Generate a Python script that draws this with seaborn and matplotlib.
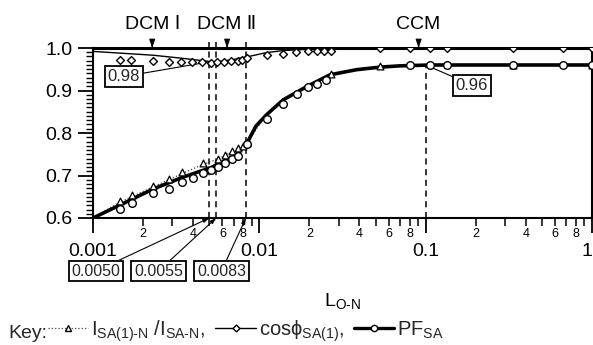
import numpy as np
import pandas as pd
import matplotlib
matplotlib.use("Agg")
import matplotlib.pyplot as plt
from matplotlib.lines import Line2D
from matplotlib.ticker import FixedLocator, FixedFormatter
import seaborn as sns

# ---------------- data ----------------
# cos(phi)_SA(1): diamonds
cos_L = [0.001444, 0.001699, 0.002293, 0.002862, 0.003399, 0.003937, 0.004523, 0.005104,
         0.005601, 0.006137, 0.006801, 0.007454, 0.007879, 0.008445, 0.01105, 0.01391,
         0.01652, 0.01952, 0.02211, 0.02457, 0.02696, 0.0532, 0.0807, 0.1064, 0.1342,
         0.3334, 0.667, 1.0]
cos_v = [0.972, 0.972, 0.970, 0.968, 0.966, 0.966, 0.966, 0.964,
         0.966, 0.968, 0.969, 0.970, 0.972, 0.976, 0.984, 0.987,
         0.990, 0.992, 0.992, 0.993, 0.994, 1.0, 1.0, 1.0, 1.0,
         1.0, 1.0, 1.0]
cos_line_L = [0.001, 0.0023, 0.0034, 0.0051, 0.0056, 0.0068, 0.0084, 0.011, 0.0139,
              0.0195, 0.027, 0.05, 1.0]
cos_line_v = [0.992, 0.983, 0.976, 0.968, 0.968, 0.972, 0.979, 0.989, 0.994,
              0.997, 0.999, 1.0, 1.0]

# I_SA(1)-N / I_SA-N: triangles
tri_L = [0.001444, 0.001713, 0.002293, 0.002862, 0.003413, 0.004586, 0.005647, 0.006196,
         0.00683, 0.007422, 0.007955, 0.008374, 0.02685, 0.0532, 0.3334, 1.0]
tri_v = [0.640, 0.655, 0.676, 0.691, 0.708, 0.730, 0.740, 0.748,
         0.757, 0.764, 0.770, 0.777, 0.939, 0.958, 0.960, 0.960]
tri_line_L = [0.001, 0.001444, 0.002293, 0.003413, 0.004586, 0.005647, 0.00683, 0.008374,
              0.01105, 0.01391, 0.01924, 0.02659, 0.0385, 0.0532, 0.0702, 0.1064, 1.0]
tri_line_v = [0.600, 0.637, 0.673, 0.704, 0.726, 0.739, 0.756, 0.777,
              0.843, 0.878, 0.909, 0.937, 0.949, 0.955, 0.958, 0.960, 0.960]

# PF_SA: circles
pf_L = [0.001444, 0.001723, 0.002293, 0.002862, 0.003413, 0.003992, 0.004586, 0.005152,
        0.005647, 0.006257, 0.006859, 0.007454, 0.008374, 0.01114, 0.0138, 0.01675,
        0.01952, 0.0223, 0.02515, 0.0807, 0.1064, 0.1342, 0.3334, 0.667, 1.0]
pf_v = [0.621, 0.635, 0.658, 0.669, 0.685, 0.695, 0.705, 0.712,
        0.721, 0.730, 0.738, 0.746, 0.775, 0.833, 0.868, 0.892,
        0.908, 0.916, 0.924, 0.960, 0.960, 0.960, 0.960, 0.960, 0.960]
pf_line_L = [0.001, 0.001444, 0.002293, 0.003413, 0.005152, 0.0066, 0.0073, 0.008374,
             0.00953, 0.01105, 0.01391, 0.01924, 0.02659, 0.0385, 0.0532, 0.0702, 0.1064, 1.0]
pf_line_v = [0.600, 0.630, 0.668, 0.695, 0.719, 0.740, 0.750, 0.774,
             0.816, 0.843, 0.878, 0.909, 0.937, 0.949, 0.955, 0.958, 0.960, 0.960]

# markers of the regimes
mode_labels = ["DCM Ⅰ", "DCM Ⅱ", "CCM"]
mode_L = [0.00227, 0.0064, 0.0907]
bound_L = [0.0050, 0.0055, 0.0083]
bound_labels = ["0.0050", "0.0055", "0.0083"]
ccm_L = 0.1

x_major = [0.001, 0.01, 0.1, 1]
x_major_labels = ["0.001", "0.01", "0.1", "1"]
y_major = [0.6, 0.7, 0.8, 0.9, 1.0]
y_major_labels = ["0.6", "0.7", "0.8", "0.9", "1.0"]

# ---------------- style ----------------
sns.set_theme(style="ticks")
plt.rcParams["font.family"] = ["Liberation Sans", "DejaVu Sans"]
plt.rcParams["mathtext.fontset"] = "custom"
plt.rcParams["mathtext.rm"] = "Liberation Sans"
plt.rcParams["mathtext.it"] = "Liberation Sans:italic"
plt.rcParams["mathtext.bf"] = "Liberation Sans:bold"

W, H = 593, 345
fig = plt.figure(figsize=(W / 100, H / 100), dpi=100)
fig.patch.set_facecolor("white")
ax = fig.add_axes([93 / W, 1 - 218 / H, 499 / W, 170 / H])
ax.set_facecolor("white")

# lines
sns.lineplot(x=tri_line_L, y=tri_line_v, ax=ax, color="#444444", lw=0.9, ls=":", zorder=3)
sns.lineplot(x=cos_line_L, y=cos_line_v, ax=ax, color="black", lw=1.0, zorder=3)
sns.lineplot(x=pf_line_L, y=pf_line_v, ax=ax, color="black", lw=2.6, zorder=4)

# markers
sns.scatterplot(x=cos_L, y=cos_v, ax=ax, marker="D", s=16, facecolor="white",
                edgecolor="black", linewidth=1.0, zorder=5)
sns.scatterplot(x=tri_L, y=tri_v, ax=ax, marker="^", s=24, facecolor="white",
                edgecolor="black", linewidth=0.9, zorder=5)
sns.scatterplot(x=pf_L, y=pf_v, ax=ax, marker="o", s=30, facecolor="white",
                edgecolor="black", linewidth=1.0, zorder=5)

ax.set_xscale("log")
ax.set_xlim(0.001, 1)
ax.set_ylim(0.6, 1.0)

# vertical dashed lines
ax.vlines(bound_L, 0.6, 1.015, colors="black", linestyles=(0, (4, 3)), lw=1.1,
          clip_on=False, zorder=2)
ax.vlines([ccm_L], 0.6, 0.96, colors="black", linestyles=(0, (4, 3)), lw=1.1, zorder=2)

# ticks
ax.xaxis.set_major_locator(FixedLocator(x_major))
ax.xaxis.set_major_formatter(FixedFormatter(x_major_labels))
minor_x = [m * d for d in [0.001, 0.01, 0.1] for m in range(2, 10)]
minor_lab = [str(m) if m in (2, 4, 6, 8) else "" for d in [0.001, 0.01, 0.1] for m in range(2, 10)]
ax.xaxis.set_minor_locator(FixedLocator(minor_x))
ax.xaxis.set_minor_formatter(FixedFormatter(minor_lab))
ax.yaxis.set_major_locator(FixedLocator(y_major))
ax.yaxis.set_major_formatter(FixedFormatter(y_major_labels))
ax.yaxis.set_minor_locator(FixedLocator(list(np.arange(0.6, 1.0001, 0.01))))

ax.tick_params(axis="x", which="major", direction="out", length=11, width=1.3,
               labelsize=14, pad=7, color="black", labelcolor="black")
ax.tick_params(axis="x", which="minor", direction="out", length=6, width=1.1,
               labelsize=9, pad=1, color="black", labelcolor="black")
ax.tick_params(axis="y", which="major", direction="out", length=11, width=1.3,
               labelsize=14, pad=4, color="black", labelcolor="black")
ax.tick_params(axis="y", which="minor", direction="out", length=5, width=1.0,
               color="black")
ax.tick_params(top=False, right=False, which="both")

# keep the last major label ("1") inside the picture
fig.canvas.draw()
ax.get_xticklabels()[-1].set_horizontalalignment("right")

for sp in ax.spines.values():
    sp.set_color("black")
    sp.set_linewidth(1.5)
ax.spines["top"].set_linewidth(2.2)

ax.set_xlabel(r"$\mathregular{L_{O\text{-}N}}$", fontsize=14, color="black")
ax.xaxis.set_label_coords(0.5, -0.43)
ax.set_ylabel("")

# regime labels with arrows
for lab, xv in zip(mode_labels, mode_L):
    ax.annotate(lab, xy=(xv, 1.0), xytext=(xv, 1.055), textcoords="data",
                ha="center", va="center", fontsize=14, color="black",
                arrowprops=dict(arrowstyle="-|>,head_length=0.35,head_width=0.12",
                                color="black", lw=0.9, shrinkA=6, shrinkB=0),
                annotation_clip=False)

box = dict(boxstyle="square,pad=0.18", fc="white", ec="black", lw=1.3)
box_px = [(96, 271), (158.5, 271), (221.5, 271)]
for lab, xv, (px, py) in zip(bound_labels, bound_L, box_px):
    ax.annotate(lab, xy=(xv, 0.6), xytext=(px, H - py), textcoords="figure pixels",
                ha="center", va="center", fontsize=11.5, bbox=box,
                arrowprops=dict(arrowstyle="-|>,head_length=0.3,head_width=0.1",
                                color="black", lw=0.8, shrinkA=0, shrinkB=0),
                annotation_clip=False)

ax.annotate("0.98", xy=(0.0051, 0.968), xytext=(124, H - 76.5), textcoords="figure pixels",
            ha="center", va="center", fontsize=12, bbox=box,
            arrowprops=dict(arrowstyle="-", color="black", lw=0.8, shrinkA=0, shrinkB=0))
ax.annotate("0.96", xy=(0.1, 0.96), xytext=(472, H - 85), textcoords="figure pixels",
            ha="center", va="center", fontsize=12, bbox=box,
            arrowprops=dict(arrowstyle="-", color="black", lw=0.8, shrinkA=0, shrinkB=0))

# key
fig.text(8 / W, 1 - 333 / H, "Key:", fontsize=14, ha="left", va="center")
handles = [
    Line2D([], [], color="#444444", lw=0.9, ls=":", marker="^", ms=4.5, mfc="white", mec="black"),
    Line2D([], [], color="black", lw=1.0, marker="D", ms=3.5, mfc="white", mec="black"),
    Line2D([], [], color="black", lw=2.4, marker="o", ms=4.5, mfc="white", mec="black"),
]
labels = [r"$\mathregular{I_{SA(1)\text{-}N}\ /I_{SA\text{-}N},}$",
          r"$\mathregular{cos\phi_{SA(1)},}$",
          r"$\mathregular{PF_{SA}}$"]
fig.legend(handles, labels, loc="center left", bbox_to_anchor=(48 / W, 1 - 331 / H),
           ncol=3, frameon=False, fontsize=14.5, handlelength=2.0, handletextpad=0.15,
           columnspacing=0.5, borderaxespad=0, borderpad=0)

fig.savefig("out.png", dpi=100, facecolor="white")
